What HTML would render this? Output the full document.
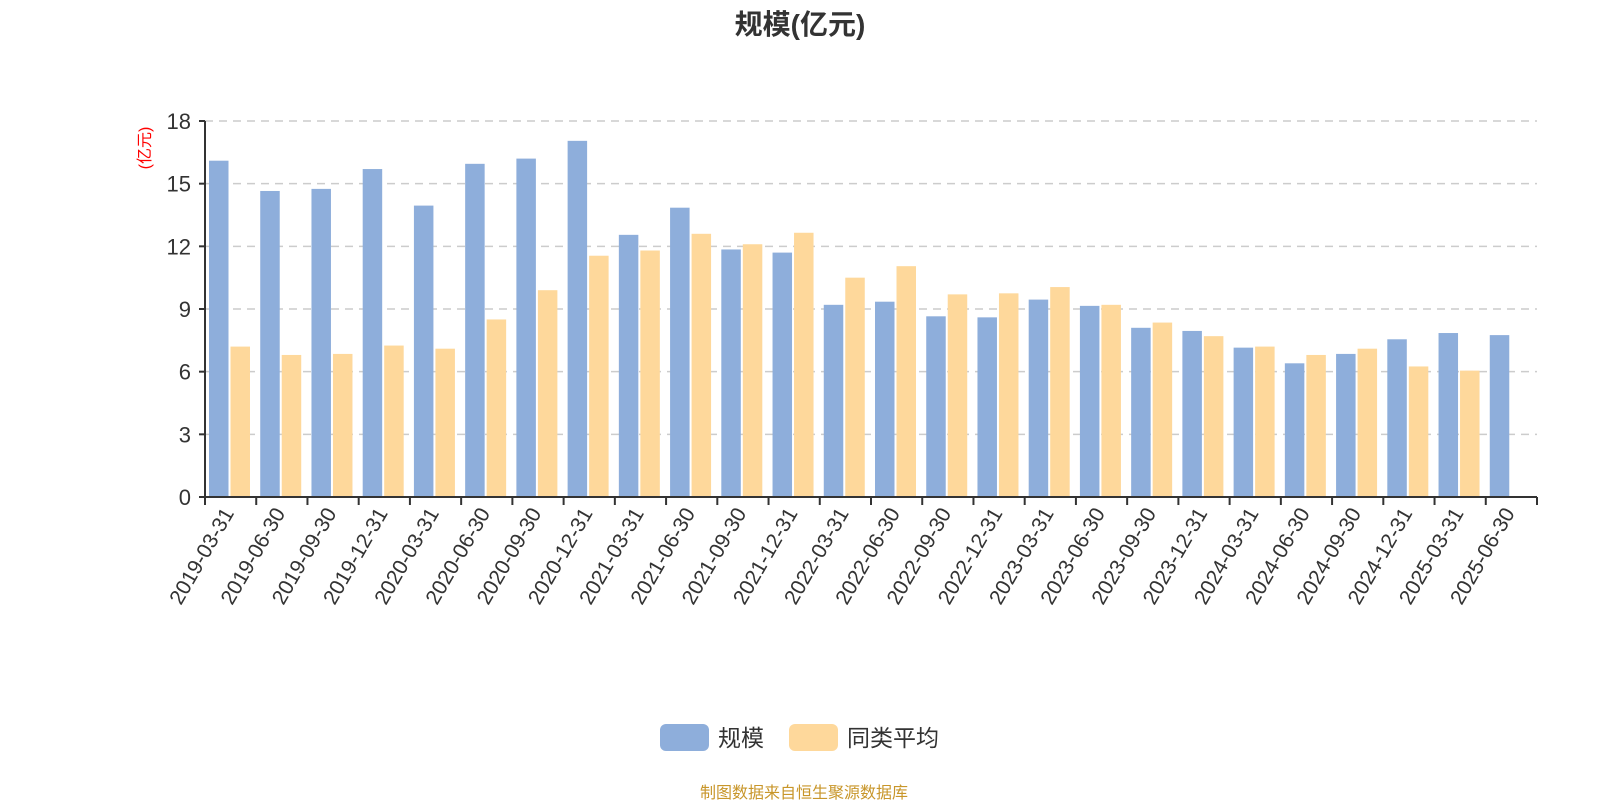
<!DOCTYPE html>
<html><head><meta charset="utf-8"><style>
body{margin:0;background:#fff;}
svg{display:block;font-family:"Liberation Sans","Noto Sans CJK SC",sans-serif;}
</style></head><body>
<svg id="c" width="1600" height="800" xmlns="http://www.w3.org/2000/svg">
<text x="800" y="34" text-anchor="middle" font-size="28" font-weight="bold" fill="#333">规模(亿元)</text>
<text transform="translate(150,148) rotate(-90)" text-anchor="middle" font-size="16" fill="#f00">(亿元)</text>
<g id="grid"></g><g id="bars"></g><g id="axes"></g>
<g>
<rect x="660" y="724" width="49" height="27" rx="6" fill="#8eaedb"/>
<text x="718" y="746" font-size="23" fill="#333">规模</text>
<rect x="789" y="724" width="49" height="27" rx="6" fill="#fed89b"/>
<text x="847" y="746" font-size="23" fill="#333">同类平均</text>
</g>
<text x="804" y="798" text-anchor="middle" font-size="16" fill="#c8962a">制图数据来自恒生聚源数据库</text>
</svg>
<script>
const categories=["2019-03-31","2019-06-30","2019-09-30","2019-12-31","2020-03-31","2020-06-30","2020-09-30","2020-12-31","2021-03-31","2021-06-30","2021-09-30","2021-12-31","2022-03-31","2022-06-30","2022-09-30","2022-12-31","2023-03-31","2023-06-30","2023-09-30","2023-12-31","2024-03-31","2024-06-30","2024-09-30","2024-12-31","2025-03-31","2025-06-30"];
const scaleValues=[16.1,14.65,14.75,15.7,13.95,15.95,16.2,17.05,12.55,13.85,11.85,11.7,9.2,9.35,8.65,8.6,9.45,9.15,8.1,7.95,7.15,6.4,6.85,7.55,7.85,7.75];
const avgValues=[7.2,6.8,6.85,7.25,7.1,8.5,9.9,11.55,11.8,12.6,12.1,12.65,10.5,11.05,9.7,9.75,10.05,9.2,8.35,7.7,7.2,6.8,7.1,6.25,6.05,null];
const yTicks=[0,3,6,9,12,15,18];
const X0=205,X1=1537,Y0=497,Y1=121,YMAX=18;
const NS="http://www.w3.org/2000/svg";
const band=(X1-X0)/categories.length;
const xs=i=>X0+i*band;
const ys=v=>Y0-(v/YMAX)*(Y0-Y1);
function mk(t,a,p){const e=document.createElementNS(NS,t);for(const k in a)e.setAttribute(k,a[k]);p.appendChild(e);return e;}
const grid=document.getElementById('grid'),bars=document.getElementById('bars'),axes=document.getElementById('axes');
yTicks.forEach(v=>{
 if(v>0){const l=mk('line',{x1:X0,x2:X1,y1:ys(v),y2:ys(v),stroke:'#ccc','stroke-width':1.5,'stroke-dasharray':'8,6'},grid);
 
 }
 const tk=mk('line',{x1:X0-6,x2:X0,y1:ys(v),y2:ys(v),stroke:'#333','stroke-width':2},axes);
 
 
 const t=mk('text',{x:X0-14,y:ys(v)+8,'text-anchor':'end','font-size':22,fill:'#333'},axes);t.textContent=v;
 
 
});
const bw=19.5;
categories.forEach((c,i)=>{
 const b=mk('rect',{x:xs(i)+4,y:ys(scaleValues[i]),width:bw,height:Y0-ys(scaleValues[i]),fill:'#8eaedb'},bars);
 
 
 if(avgValues[i]!=null){const a=mk('rect',{x:xs(i)+4+bw+2,y:ys(avgValues[i]),width:bw,height:Y0-ys(avgValues[i]),fill:'#fed89b'},bars);
 
 }
 const cx=xs(i)+band/2+4;
 const t=mk('text',{transform:`translate(${cx},${Y0+16}) rotate(-60)`,'text-anchor':'end','font-size':21,fill:'#333'},axes);t.textContent=c;
 
 
});
for(let i=0;i<=categories.length;i++){const tk=mk('line',{x1:xs(i),x2:xs(i),y1:Y0,y2:Y0+8,stroke:'#333','stroke-width':2},axes);
 
 }
const xa=mk('line',{x1:X0,x2:X1,y1:Y0,y2:Y0,stroke:'#333','stroke-width':2},axes);


const ya=mk('line',{x1:X0,x2:X0,y1:Y1,y2:Y0,stroke:'#333','stroke-width':2},axes);


</script>
</body></html>
